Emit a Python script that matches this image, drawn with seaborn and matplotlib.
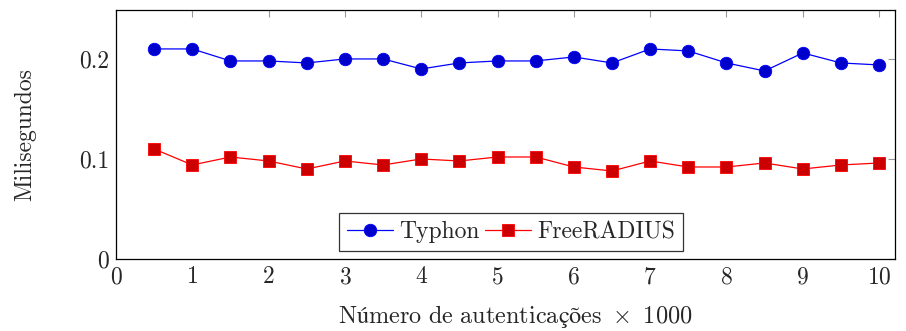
import numpy as np
import pandas as pd
import matplotlib
matplotlib.use("Agg")
import matplotlib.pyplot as plt
import seaborn as sns

# data
x_vals = [0.5, 1, 1.5, 2, 2.5, 3, 3.5, 4, 4.5, 5, 5.5, 6, 6.5, 7, 7.5, 8, 8.5, 9, 9.5, 10]
typhon = [0.210, 0.210, 0.198, 0.198, 0.196, 0.200, 0.200, 0.190, 0.196, 0.198,
          0.198, 0.202, 0.196, 0.210, 0.208, 0.196, 0.188, 0.206, 0.196, 0.194]
freeradius = [0.110, 0.094, 0.102, 0.098, 0.090, 0.098, 0.094, 0.100, 0.098, 0.102,
              0.102, 0.092, 0.088, 0.098, 0.092, 0.092, 0.096, 0.090, 0.094, 0.096]
x_ticks = list(range(0, 11))
y_ticks = [0, 0.1, 0.2]
y_tick_labels = ["0", "0.1", "0.2"]

sns.set_style("white")
plt.rcParams['font.family'] = ['cmr10']
plt.rcParams['mathtext.fontset'] = 'cm'
plt.rcParams['axes.formatter.use_mathtext'] = True

FS = 17

fig = plt.figure(figsize=(9.06, 3.31), dpi=100)
ax = fig.add_axes([0.128, 0.2175, 0.86, 0.7525])

df_t = pd.DataFrame({"x": x_vals, "y": typhon})
df_f = pd.DataFrame({"x": x_vals, "y": freeradius})

sns.lineplot(data=df_t, x="x", y="y", ax=ax, color="#0000FF", lw=0.9,
             marker="o", markersize=9, markerfacecolor="#0000CC",
             markeredgecolor="#0000FF", markeredgewidth=0.6, label="Typhon")
sns.lineplot(data=df_f, x="x", y="y", ax=ax, color="#FF0000", lw=0.9,
             marker="s", markersize=8, markerfacecolor="#CC0000",
             markeredgecolor="#FF0000", markeredgewidth=0.6, label="FreeRADIUS")

ax.set_xlim(0, 10.21)
ax.set_ylim(0, 0.249)
ax.set_xticks(x_ticks)
ax.set_yticks(y_ticks)
ax.set_yticklabels(y_tick_labels)
ax.tick_params(axis="both", direction="in", length=5, width=0.8, color="#999999",
               labelsize=FS, top=True, right=True, pad=5)
for s in ax.spines.values():
    s.set_color("black")
    s.set_linewidth(0.9)

# accented letters through mathtext so the missing cmr10 glyphs fall back cleanly
ax.set_xlabel(r"$\mathrm{Número\ de\ autenticações}\ \times\ 1000$", fontsize=17.5)
ax.xaxis.set_label_coords(0.513, -0.178)
ax.set_ylabel("Milisegundos", fontsize=FS, labelpad=31)

leg = ax.legend(loc="lower center", bbox_to_anchor=(0.507, 0.032), ncol=2,
                fontsize=FS, frameon=True, fancybox=False, handlelength=1.95,
                columnspacing=0.25, handletextpad=0.25, borderpad=0.34,
                borderaxespad=0)
leg.get_frame().set_edgecolor("black")
leg.get_frame().set_linewidth(0.9)

fig.savefig("out.png", dpi=100)
